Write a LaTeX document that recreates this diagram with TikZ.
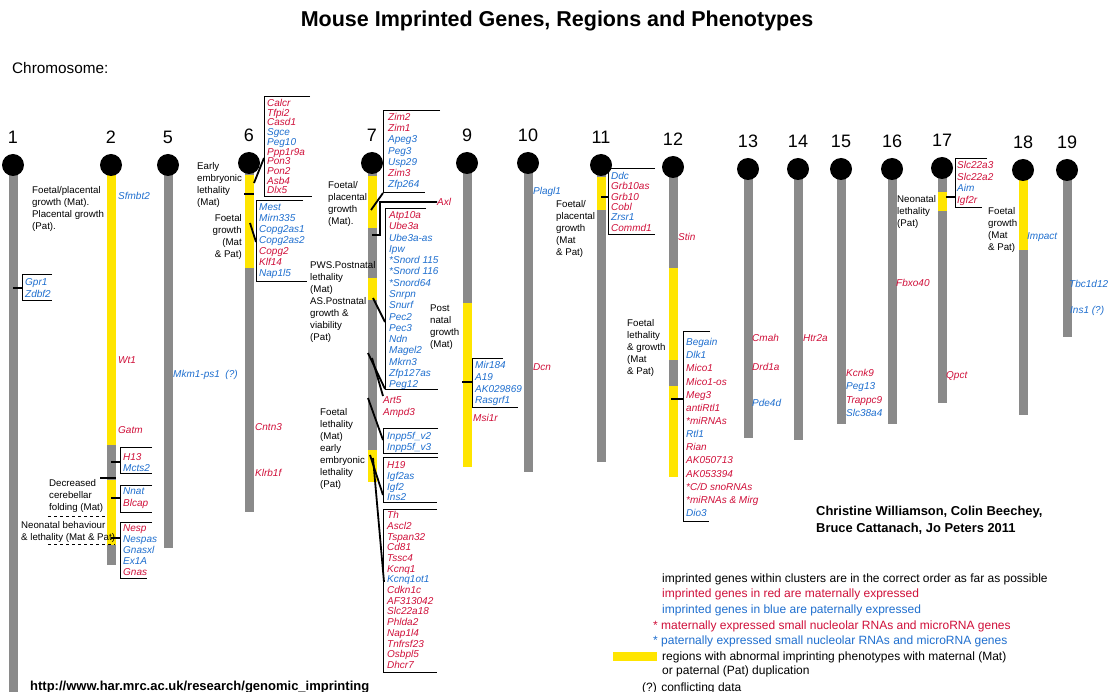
\documentclass[tikz,border=0pt]{standalone}
\usepackage{fontspec}
\setmainfont{Liberation Sans}
\definecolor{mred}{HTML}{D0103A}
\definecolor{pblue}{HTML}{1F6FCF}
\definecolor{ylw}{HTML}{FFE500}
\definecolor{chrgray}{HTML}{8A8A8A}
\newcommand\chrbar[3]{\fill[chrgray] ({#1-4.5},#2) rectangle ({#1+4.5},#3);}
\newcommand\ylwseg[3]{\fill[ylw] ({#1-4.5},#2) rectangle ({#1+4.5},#3);}
\newcommand\mkcen[4]{\node[cen] (c#1) at (#2,#3) {}; \node[num] (n#1) at (#2,{#3-28}) {#4};}
\begin{document}
\begin{tikzpicture}[x=1pt,y=-1pt,
  gene/.style={font=\fontsize{10}{10}\selectfont\itshape, anchor=base west, inner sep=0pt, yshift=-3.6pt},
  mat/.style={gene, text=mred},
  pat/.style={gene, text=pblue},
  pheno/.style={font=\fontsize{9.7}{12}\selectfont, inner sep=0pt, align=left, anchor=north west},
  num/.style={font=\fontsize{18}{18}\selectfont, inner sep=0pt},
  cen/.style={circle, fill=black, minimum size=22pt, inner sep=0pt},
  brk/.style={line width=0.9pt},
  tick/.style={line width=2.2pt},
  leg/.style={font=\fontsize{12}{12}\selectfont, anchor=base west, inner sep=0pt, yshift=-4.3pt},
]
\useasboundingbox (0,0) rectangle (1108,692);
\fill[white] (0,0) rectangle (1108,692);

% title
\node[font=\fontsize{21.5}{21.5}\selectfont\bfseries, inner sep=0pt] (title) at (557,21) {Mouse Imprinted Genes, Regions and Phenotypes};
\node[font=\fontsize{15.3}{15.3}\selectfont, anchor=west, inner sep=0pt] (chrlab) at (12,68) {Chromosome:};

% chromosome bars
\chrbar{13}{165}{692}
\chrbar{111}{165}{565}
\chrbar{168}{165}{548}
\chrbar{249}{163}{512}
\chrbar{372}{163}{482}
\chrbar{467}{163}{467}
\chrbar{528}{163}{472}
\chrbar{601}{165}{462}
\chrbar{673}{167}{477}
\chrbar{748}{169}{438}
\chrbar{798}{169}{440}
\chrbar{841}{169}{424}
\chrbar{892}{169}{424}
\chrbar{942}{168}{403}
\chrbar{1023}{170}{415}
\chrbar{1067}{170}{337}
% yellow regions
\ylwseg{111}{170}{445}
\ylwseg{111}{480}{545}
\ylwseg{249}{175}{268}
\ylwseg{372}{176}{228}
\ylwseg{372}{278}{300}
\ylwseg{372}{450}{482}
\ylwseg{467}{303}{467}
\ylwseg{601}{177}{210}
\ylwseg{673}{268}{360}
\ylwseg{673}{386}{477}
\ylwseg{942}{192}{211}
\ylwseg{1023}{180}{250}
% centromeres and numbers
\mkcen{1}{13}{165}{1}
\mkcen{2}{111}{165}{2}
\mkcen{5}{168}{165}{5}
\mkcen{6}{249}{163}{6}
\mkcen{7}{372}{163}{7}
\mkcen{9}{467}{163}{9}
\mkcen{10}{528}{163}{10}
\mkcen{11}{601}{165}{11}
\mkcen{12}{673}{167}{12}
\mkcen{13}{748}{169}{13}
\mkcen{14}{798}{169}{14}
\mkcen{15}{841}{169}{15}
\mkcen{16}{892}{169}{16}
\mkcen{17}{942}{168}{17}
\mkcen{18}{1023}{170}{18}
\mkcen{19}{1067}{170}{19}

% ---------- chromosome 1
\draw[brk] (52,274) -- (22,274) -- (22,300) -- (52,300);
\draw[tick] (13,288) -- (22,288);
\node[pat] (g1a) at (25,282) {Gpr1};
\node[pat] (g1b) at (25,294) {Zdbf2};

% ---------- chromosome 2
\node[pheno] (p2a) at (32,186.4) {Foetal/placental\\growth (Mat).\\Placental growth\\(Pat).};
\node[pat] (g2a) at (118,196) {Sfmbt2};
\node[mat] (g2b) at (118,360) {Wt1};
\node[mat] (g2c) at (118,430) {Gatm};
\draw[brk] (152,447) -- (120,447) -- (120,473) -- (152,473);
\draw[tick] (111,462) -- (120,462);
\node[mat] (g2d) at (123,457) {H13};
\node[pat] (g2e) at (123,468) {Mcts2};
\draw[line width=1.6pt] (100,478) -- (116,478);
\draw[brk] (152,485) -- (120,485) -- (120,512) -- (152,512);
\draw[tick] (111,498) -- (120,498);
\node[pat] (g2f) at (123,491) {Nnat};
\node[mat] (g2g) at (123,503) {Blcap};
\draw[line width=1pt, dashed] (48,516) -- (107,516);
\draw[line width=1pt, dashed] (48,544) -- (115,544);
\draw[brk] (152,522) -- (120,522) -- (120,578) -- (147,578);
\draw[tick] (111,538) -- (120,538);
\foreach \g/\s [count=\i] in {Nesp/mat, Nespas/pat, Gnasxl/pat, Ex1A/pat, Gnas/mat}
  {\node[\s] (g2h-\i) at (123,{528+11*(\i-1)}) {\g};}
\node[pheno] (p2b) at (49,479.4) {Decreased\\cerebellar\\folding (Mat)};
\node[pheno] (p2c) at (21,521.4) {Neonatal behaviour\\\& lethality (Mat \& Pat)};

% ---------- chromosome 5
\node[pat] (g5a) at (173,374) {Mkm1-ps1\ \ (?)};

% ---------- chromosome 6
\draw[tick] (244,194) -- (254,194);
\draw[line width=1.8pt] (254,183) -- (264,158);
\draw[brk] (310,96) -- (264,96) -- (264,196) -- (312,196);
\foreach \g/\s [count=\i] in {Calcr/mat, Tfpi2/mat, Casd1/mat, Sgce/pat, Peg10/pat, Ppp1r9a/mat, Pon3/mat, Pon2/mat, Asb4/mat, Dlx5/mat}
  {\node[\s] (g6a-\i) at (267,{103+9.7*(\i-1)}) {\g};}
\draw[line width=1.8pt] (250,223) -- (256,242);
\draw[brk] (303,200) -- (256,200) -- (256,281) -- (307,281);
\foreach \g/\s [count=\i] in {Mest/pat, Mirn335/pat, Copg2as1/pat, Copg2as2/pat, Copg2/mat, Klf14/mat, Nap1l5/pat}
  {\node[\s] (g6b-\i) at (259,{207+11*(\i-1)}) {\g};}
\node[mat] (g6c) at (255,427) {Cntn3};
\node[mat] (g6d) at (255,473) {Klrb1f};
\node[pheno] (p6a) at (197,162.4) {Early\\embryonic\\lethality\\(Mat)};
\node[pheno, align=right, anchor=north east] (p6b) at (242,214.4) {Foetal\\growth\\(Mat\\\& Pat)};

% ---------- chromosome 7
\draw[brk] (440,110) -- (383,110) -- (383,192) -- (425,192);
\draw[line width=1.8pt] (371,210) -- (383,193);
\foreach \g/\s [count=\i] in {Zim2/mat, Zim1/mat, Apeg3/pat, Peg3/pat, Usp29/pat, Zim3/mat, Zfp264/pat}
  {\node[\s] (g7a-\i) at (388,{117+11.2*(\i-1)}) {\g};}
\node[mat] (g7x) at (437,202) {Axl};
\draw[line width=1.8pt] (372,235) -- (380,235) -- (380,202) -- (g7x.west);
\draw[brk] (426,208) -- (385,208) -- (385,389) -- (438,389);
\foreach \g/\s [count=\i] in {Atp10a/mat, Ube3a/mat, Ube3a-as/pat, Ipw/pat, *Snord 115/pat, *Snord 116/pat, *Snord64/pat, Snrpn/pat, Snurf/pat, Pec2/pat, Pec3/pat, Ndn/pat, Magel2/pat, Mkrn3/pat, Zfp127as/pat, Peg12/pat}
  {\node[\s] (g7b-\i) at (389,{215+11.27*(\i-1)}) {\g};}
\draw[line width=1.8pt] (373,298) -- (385,322);
\draw[line width=1.8pt] (368,353) -- (385,389);
\draw[line width=1.8pt] (372,358) -- (383,396);
\node[mat] (g7c) at (383,400) {Art5};
\node[mat] (g7d) at (383,412) {Ampd3};
\draw[line width=1.8pt] (368,398) -- (383,440);
\draw[brk] (438,428) -- (383,428) -- (383,453) -- (438,453);
\node[pat] (g7e) at (387,436) {Inpp5f\_v2};
\node[pat] (g7f) at (387,447) {Inpp5f\_v3};
\draw[brk] (438,457) -- (383,457) -- (383,502) -- (437,502);
\foreach \g/\s [count=\i] in {H19/mat, Igf2as/pat, Igf2/pat, Ins2/pat}
  {\node[\s] (g7g-\i) at (387,{465+10.7*(\i-1)}) {\g};}
\draw[line width=1.8pt] (370,455) -- (383,495);
\draw[line width=1.8pt] (373,458) -- (384,582);
\draw[brk] (437,509) -- (383,509) -- (383,672) -- (437,672);
\foreach \g/\s [count=\i] in {Th/mat, Ascl2/mat, Tspan32/mat, Cd81/mat, Tssc4/mat, Kcnq1/mat, Kcnq1ot1/pat, Cdkn1c/mat, AF313042/mat, Slc22a18/mat, Phlda2/mat, Nap1l4/mat, Tnfrsf23/mat, Osbpl5/mat, Dhcr7/mat}
  {\node[\s] (g7h-\i) at (387,{515+10.71*(\i-1)}) {\g};}
\node[pheno] (p7a) at (328,181.4) {Foetal/\\placental\\growth\\(Mat).};
\node[pheno] (p7b) at (310,261.4) {PWS.Postnatal\\lethality\\(Mat)\\AS.Postnatal\\growth \&\\viability\\(Pat)};
\node[pheno] (p7c) at (320,408.4) {Foetal\\lethality\\(Mat)\\early\\embryonic\\lethality\\(Pat)};

% ---------- chromosome 9
\node[pheno] (p9a) at (430,304.4) {Post\\natal\\growth\\(Mat)};
\draw[brk] (503,358) -- (472,358) -- (472,407) -- (518,407);
\draw[tick] (462,382) -- (472,382);
\foreach \g/\s [count=\i] in {Mir184/pat, A19/pat, AK029869/pat, Rasgrf1/pat}
  {\node[\s] (g9a-\i) at (475,{365+11.7*(\i-1)}) {\g};}
\node[mat] (g9b) at (473,418) {Msi1r};

% ---------- chromosome 10
\node[pat] (g10a) at (533,191) {Plagl1};
\node[mat] (g10b) at (533,367) {Dcn};

% ---------- chromosome 11
\draw[brk] (655,168) -- (608,168) -- (608,234) -- (655,234);
\draw[tick] (601,197) -- (608,197);
\foreach \g/\s [count=\i] in {Ddc/pat, Grb10as/mat, Grb10/mat, Cobl/mat, Zrsr1/pat, Commd1/mat}
  {\node[\s] (g11a-\i) at (611,{176+10.3*(\i-1)}) {\g};}
\node[pheno] (p11a) at (556,200.4) {Foetal/\\placental\\growth\\(Mat\\\& Pat)};

% ---------- chromosome 12
\node[mat] (g12s) at (678,237) {Stin};
\draw[brk] (710,331) -- (683,331) -- (683,521) -- (709,521);
\draw[tick] (671,399) -- (683,399);
\foreach \g/\s [count=\i] in {Begain/pat, Dlk1/pat, Mico1/mat, Mico1-os/mat, Meg3/mat, antiRtl1/mat, *miRNAs/mat, Rtl1/pat, Rian/mat, AK050713/mat, AK053394/mat, *C\slash D snoRNAs/mat, *miRNAs \& Mirg/mat, Dio3/pat}
  {\node[\s] (g12a-\i) at (686,{342+13.15*(\i-1)}) {\g};}
\node[pheno] (p12a) at (627,319.4) {Foetal\\lethality\\\& growth\\(Mat\\\& Pat)};

% ---------- chromosomes 13-16
\node[mat] (g13a) at (752,338) {Cmah};
\node[mat] (g13b) at (752,367) {Drd1a};
\node[pat] (g13c) at (752,403) {Pde4d};
\node[mat] (g14a) at (803,338) {Htr2a};
\foreach \g/\s [count=\i] in {Kcnk9/mat, Peg13/pat, Trappc9/mat, Slc38a4/pat}
  {\node[\s] (g15a-\i) at (846,{373+13.3*(\i-1)}) {\g};}
\node[mat] (g16a) at (896,283) {Fbxo40};

% ---------- chromosome 17
\draw[brk] (987,158) -- (955,158) -- (955,207) -- (982,207);
\draw[tick] (946,197) -- (955,197);
\foreach \g/\s [count=\i] in {Slc22a3/mat, Slc22a2/mat, Aim/pat, Igf2r/mat}
  {\node[\s] (g17a-\i) at (957,{165+11.7*(\i-1)}) {\g};}
\node[pheno] (p17a) at (897,195.4) {Neonatal\\lethality\\(Pat)};
\node[mat] (g17b) at (946,375) {Qpct};

% ---------- chromosome 18, 19
\node[pat] (g18a) at (1027,236) {Impact};
\node[pheno] (p18a) at (988,207.4) {Foetal\\growth\\(Mat\\\& Pat)};
\node[pat] (g19a) at (1069,284) {Tbc1d12};
\node[pat] (g19b) at (1070,310) {Ins1 (?)};

% ---------- authors
\node[font=\fontsize{12.9}{16.5}\selectfont\bfseries, align=left, anchor=north west, inner sep=0pt] (auth) at (816,506) {Christine Williamson, Colin Beechey,\\Bruce Cattanach, Jo Peters 2011};

% ---------- legend
\node[leg] (l1) at (662,578) {imprinted genes within clusters are in the correct order as far as possible};
\node[leg, text=mred] (l2) at (662,593) {imprinted genes in red are maternally expressed};
\node[leg, text=pblue] (l3) at (662,609) {imprinted genes in blue are paternally expressed};
\node[leg, text=mred] (l4) at (653,625) {* maternally expressed small nucleolar RNAs and microRNA genes};
\node[leg, text=pblue] (l5) at (653,640) {* paternally expressed small nucleolar RNAs and microRNA genes};
\fill[ylw] (613,652) rectangle (657,661);
\node[leg] (l6) at (662,656) {regions with abnormal imprinting phenotypes with maternal (Mat)};
\node[leg] (l7) at (662,670) {or paternal (Pat) duplication};
\node[leg] (l8) at (642,687) {(?) conflicting data};

% ---------- url
\node[font=\fontsize{13}{13}\selectfont\bfseries, anchor=base west, inner sep=0pt, yshift=-4.5pt] (url) at (30,686) {http://www.har.mrc.ac.uk/research/genomic\_imprinting};
\end{tikzpicture}
\end{document}
